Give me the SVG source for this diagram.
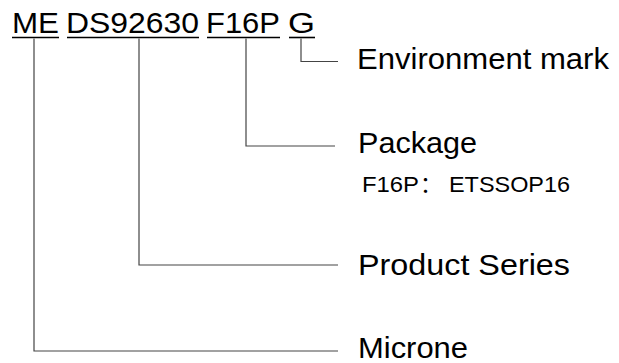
<svg xmlns="http://www.w3.org/2000/svg" width="619" height="363" viewBox="0 0 619 363">
<style>
.t{font-family:"Liberation Sans",Arial,sans-serif;font-size:30px;fill:#000}
.s{font-family:"Liberation Sans",Arial,"Noto Sans CJK SC",sans-serif;font-size:22px;fill:#000}
.u{stroke:#000;stroke-width:1.6;fill:none}
.c{stroke:#444;stroke-width:1.2;fill:none}
</style>
<rect width="619" height="363" fill="#fff"/>
<g id="code">
<text class="t" x="12" y="33" textLength="47" lengthAdjust="spacingAndGlyphs">ME</text>
<text class="t" x="66" y="33" textLength="133" lengthAdjust="spacingAndGlyphs">DS92630</text>
<text class="t" x="206" y="33" textLength="74" lengthAdjust="spacingAndGlyphs">F16P</text>
<text class="t" x="288" y="33" textLength="27" lengthAdjust="spacingAndGlyphs">G</text>
<line class="u" x1="12" y1="37.5" x2="59" y2="37.5"/>
<line class="u" x1="67" y1="37.5" x2="199" y2="37.5"/>
<line class="u" x1="207" y1="37.5" x2="280" y2="37.5"/>
<line class="u" x1="289" y1="37.5" x2="315" y2="37.5"/>
</g>
<g id="environment">
<text class="t" x="357" y="69" textLength="252" lengthAdjust="spacingAndGlyphs">Environment mark</text>
</g>
<g id="package">
<text class="t" x="358" y="153" textLength="119" lengthAdjust="spacingAndGlyphs">Package</text>
<text class="s" x="362" y="192"><tspan textLength="57" lengthAdjust="spacingAndGlyphs">F16P</tspan><tspan x="420">：</tspan><tspan x="449" textLength="121" lengthAdjust="spacingAndGlyphs">ETSSOP16</tspan></text>
</g>
<g id="series">
<text class="t" x="358" y="275" textLength="212" lengthAdjust="spacingAndGlyphs">Product Series</text>
</g>
<g id="microne">
<text class="t" x="358" y="358" textLength="110" lengthAdjust="spacingAndGlyphs">Microne</text>
</g>
<g id="connectors">
<polyline class="c" points="34,38.5 34,351 338,351"/>
<polyline class="c" points="139,38.5 139,265 338,265"/>
<polyline class="c" points="246,38.5 246,146 335,146"/>
<polyline class="c" points="301,38.5 301,61.5 338,61.5"/>
</g>
</svg>
